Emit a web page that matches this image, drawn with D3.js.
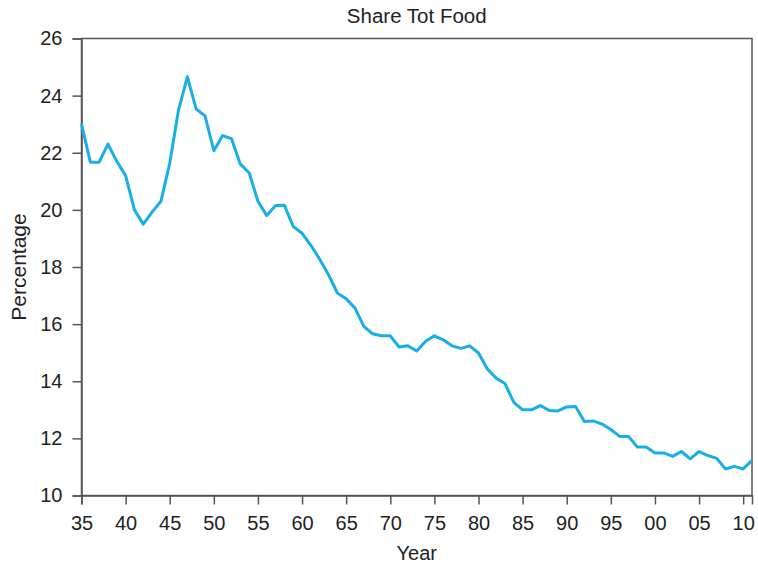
<!DOCTYPE html>
<html>
<head>
<meta charset="utf-8">
<script src="https://cdn.jsdelivr.net/npm/d3@7"></script>
<style>
html,body{margin:0;padding:0;background:#fff;}
svg{display:block;}
text{font-family:"Liberation Sans",Arial,Helvetica,sans-serif;fill:#222;}
</style>
</head>
<body>
<svg id="chart" width="758" height="569"></svg>
<script>
const years = d3.range(1935, 2012);
const shareTotFood = [
  23.0, 21.67, 21.67, 22.3, 21.7, 21.2, 20.0, 19.5, 19.92, 20.3,
  21.63, 23.5, 24.66, 23.53, 23.29, 22.07, 22.6, 22.49, 21.6, 21.3,
  20.3, 19.8, 20.15, 20.16, 19.42, 19.18, 18.76, 18.27, 17.73, 17.09,
  16.89, 16.56, 15.92, 15.66, 15.59, 15.59, 15.2, 15.24, 15.06, 15.4,
  15.59, 15.45, 15.24, 15.15, 15.24, 14.99, 14.43, 14.11, 13.92, 13.26,
  13.0, 13.0, 13.15, 12.98, 12.96, 13.1, 13.12, 12.59, 12.61, 12.5,
  12.31, 12.07, 12.07, 11.7, 11.7, 11.49, 11.49, 11.37, 11.54, 11.28,
  11.54, 11.4, 11.3, 10.93, 11.02, 10.93, 11.23
];
const xTicks = d3.range(1935, 2011, 5);
const yTicks = [10, 12, 14, 16, 18, 20, 22, 24, 26];
const title = "Share Tot Food";
const xLabel = "Year";
const yLabel = "Percentage";

const svg = d3.select("#chart");
const m = {left: 81.5, right: 6, top: 38.5, bottom: 73.5};
const W = 758, H = 569;
const x = d3.scaleLinear().domain([1935, 2011]).range([m.left, W - m.right]);
const y = d3.scaleLinear().domain([10, 26]).range([H - m.bottom, m.top]);
const axisColor = "#555";

// frame
svg.append("rect")
  .attr("x", m.left).attr("y", m.top)
  .attr("width", W - m.right - m.left).attr("height", H - m.bottom - m.top)
  .attr("fill", "none").attr("stroke", axisColor).attr("stroke-width", 1.5);

const xAxis = svg.append("g")
  .attr("transform", `translate(0,${H - m.bottom})`)
  .call(d3.axisBottom(x).tickValues(xTicks)
    .tickFormat(d => String(d % 100).padStart(2, "0"))
    .tickSize(9).tickPadding(11));
const yAxis = svg.append("g")
  .attr("transform", `translate(${m.left},0)`)
  .call(d3.axisLeft(y).tickValues(yTicks).tickSize(9).tickPadding(10));

[xAxis, yAxis].forEach(g => {
  g.select(".domain").attr("stroke", axisColor).attr("stroke-width", 1.5);
  g.selectAll(".tick line").attr("stroke", axisColor).attr("stroke-width", 1.5);
  g.selectAll(".tick text").style("font-size", "20px").attr("fill", "#222")
    .style("font-family", '"Liberation Sans",Arial,sans-serif');
});

const line = d3.line().x((d, i) => x(years[i])).y(d => y(d));
svg.append("path").datum(shareTotFood)
  .attr("d", line).attr("fill", "none")
  .attr("stroke", "#18aee8").attr("stroke-width", 3)
  .attr("stroke-linejoin", "round");

svg.append("text").attr("x", (m.left + W - m.right) / 2).attr("y", 23)
  .attr("text-anchor", "middle").style("font-size", "20.5px").text(title);
svg.append("text").attr("x", (m.left + W - m.right) / 2).attr("y", 560)
  .attr("text-anchor", "middle").style("font-size", "20px").text(xLabel);
svg.append("text")
  .attr("transform", `translate(26,${(m.top + H - m.bottom) / 2}) rotate(-90)`)
  .attr("text-anchor", "middle").style("font-size", "21px").text(yLabel);
</script>
</body>
</html>
